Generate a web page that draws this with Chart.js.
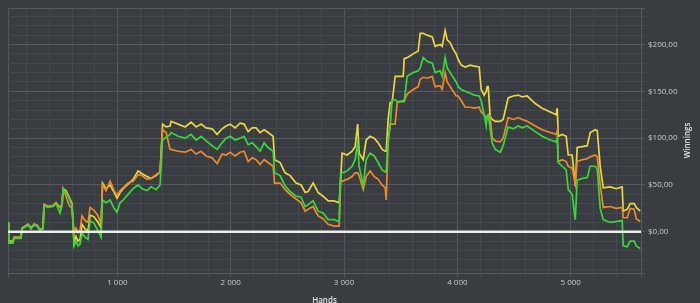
<!DOCTYPE html>
<html>
<head>
    <title>Winnings</title>
    <script src="https://cdn.jsdelivr.net/npm/chart.js"></script>
    <style>
        html, body { margin: 0; padding: 0; background: #393c40; }
        #wrap { width: 700px; height: 303px; position: relative; }
    </style>
</head>
<body>
    <div id="wrap"><canvas id="winChart"></canvas></div>
    <script>
        // hands played (x) and cumulative winnings per line ($)
        const hands = [
            35,41,79,88,150,159,212,238,265,291,
            318,344,353,388,432,459,494,512,521,547,
            574,600,618,635,653,671,688,715,741,759,
            794,830,856,869,900,936,971,997,1024,1059,
            1094,1139,1183,1218,1262,1297,1342,1377,1399,1430,
            1465,1474,1536,1598,1650,1695,1739,1783,1836,1880,
            1924,1959,1995,2039,2083,2118,2154,2189,2224,2259,
            2295,2330,2374,2387,2436,2480,2524,2577,2621,2657,
            2683,2727,2771,2815,2860,2913,2957,2970,2983,3027,
            3071,3098,3120,3133,3169,3195,3230,3266,3301,3336,
            3363,3372,3389,3407,3424,3451,3469,3522,3531,3557,
            3610,3654,3672,3698,3733,3778,3804,3848,3866,3892,
            3910,3936,3963,3989,4007,4034,4069,4113,4148,4192,
            4210,4236,4254,4263,4272,4289,4307,4334,4378,4404,
            4448,4493,4537,4572,4616,4687,4748,4819,4872,4881,
            4890,4925,4960,4978,5013,5040,5057,5102,5146,5172,
            5216,5234,5260,5287,5349,5401,5454,5463,5498,5525,
            5560,5578,5613
        ];
        const yellowWin = [
            10,-10,-10,-6,-6,4,8,4,8,7,
            2,4,29,27,28,31,26,29,46,44,
            37,30,-12,-5,-10,-8,8,3,1,18,
            16,10,4,52,46,50,42,36,42,47,
            51,56,65,62,59,57,60,64,115,112,
            113,118,115,112,117,112,115,111,110,104,
            110,113,115,111,116,115,107,111,111,106,
            109,106,102,77,74,63,60,52,50,42,
            43,52,42,38,33,33,31,56,84,82,
            86,91,115,84,77,98,102,100,95,88,
            86,86,120,138,138,166,166,166,185,186,
            190,193,212,212,210,208,198,200,198,215,
            205,202,195,190,184,178,176,178,177,176,
            152,146,150,155,155,123,120,118,118,120,
            143,145,146,144,145,137,132,128,125,132,
            102,104,102,82,82,49,90,91,92,106,
            109,108,70,47,48,46,48,22,24,30,
            30,26,22
        ];
        const orangeWin = [
            10,-11,-11,-6,-6,4,8,4,8,7,
            2,4,29,27,28,31,26,29,46,38,
            28,25,0,4,-1,2,17,12,10,26,
            23,17,8,50,44,54,44,39,44,48,
            52,54,61,60,56,57,61,64,109,106,
            88,88,86,85,88,83,86,81,79,73,
            83,82,85,81,85,86,75,79,77,72,
            77,74,70,52,52,45,40,35,31,22,
            24,27,17,14,8,6,6,56,54,56,
            59,63,63,60,45,59,65,59,56,50,
            47,34,95,115,115,115,138,140,140,147,
            152,155,163,165,164,166,155,156,152,170,
            160,155,150,145,145,140,133,133,132,133,
            128,125,122,122,125,123,100,97,96,100,
            122,120,122,120,118,113,109,106,104,108,
            75,77,75,70,68,51,75,77,78,80,
            82,80,50,26,27,25,26,15,15,25,
            24,14,11
        ];
        const greenWin = [
            10,-12,-12,-7,-7,3,7,3,7,6,
            1,3,28,26,27,30,20,28,46,42,
            36,28,-15,-10,-15,-13,-1,-6,-8,12,
            9,1,-6,34,31,34,25,21,31,35,
            40,46,50,46,44,48,45,50,98,101,
            104,106,102,100,104,98,102,97,92,88,
            95,100,102,98,100,102,93,95,91,86,
            95,90,86,63,60,49,43,38,37,27,
            29,33,22,20,13,13,11,63,63,65,
            70,77,95,70,49,77,84,81,74,66,
            64,64,100,113,141,141,139,139,139,166,
            170,172,175,186,182,180,170,172,166,186,
            175,170,165,160,155,152,150,148,146,145,
            140,125,113,124,125,110,95,88,85,92,
            112,110,113,111,113,107,102,98,96,100,
            74,70,66,45,40,13,55,57,58,70,
            70,67,25,13,10,11,12,-15,-16,-10,
            -10,-15,-18
        ];

        const handsRange = [35, 5620];
        const winRange = [-44, 239];
        const handsStep = 200, handsLabelEvery = 1000;
        const winStep = 10, winLabelEvery = 50;
        const xTitle = 'Hands';
        const yTitle = 'Winnings';

        const majorGrid = '#55585c';
        const minorGrid = '#45484c';
        const labelColor = '#c8ccd0';
        const labelFont = { family: 'Open Sans', size: 8 };

        function series(values) {
            return hands.map((h, i) => ({ x: h, y: values[i] }));
        }

        // ticks on round steps, plus the two ends so the frame gets drawn
        function stepTicks(range, step) {
            const out = [{ value: range[0] }];
            for (let v = Math.ceil(range[0] / step) * step; v < range[1] - step / 4; v += step) {
                if (v > range[0]) out.push({ value: v });
            }
            out.push({ value: range[1] });
            return out;
        }
        const isEnd = (v, range) => v === range[0] || v === range[1];

        // zero line on top of the lines + axis titles (Winnings reads upward)
        const overlay = {
            id: 'overlay',
            afterDatasetsDraw(chart) {
                const { ctx, chartArea: a, scales } = chart;
                const y0 = scales.y.getPixelForValue(0);
                ctx.save();
                ctx.strokeStyle = '#ededed';
                ctx.lineWidth = 2.5;
                ctx.beginPath();
                ctx.moveTo(a.left, y0);
                ctx.lineTo(a.right, y0);
                ctx.stroke();

                ctx.fillStyle = '#e4e6e8';
                ctx.font = '600 8px "Open Sans"';
                ctx.textAlign = 'center';
                ctx.textBaseline = 'top';
                ctx.fillText(xTitle, (a.left + a.right) / 2, 297);

                ctx.translate(688, (a.top + a.bottom) / 2);
                ctx.rotate(-Math.PI / 2);
                ctx.textBaseline = 'middle';
                ctx.fillText(yTitle, 0, 0);
                ctx.restore();
            }
        };

        new Chart(document.getElementById('winChart'), {
            type: 'line',
            data: {
                datasets: [
                    { label: 'green', data: series(greenWin), borderColor: '#38d838' },
                    { label: 'orange', data: series(orangeWin), borderColor: '#ec8a2c' },
                    { label: 'yellow', data: series(yellowWin), borderColor: '#e8d83e' }
                ]
            },
            options: {
                responsive: true,
                maintainAspectRatio: false,
                animation: false,
                events: [],
                layout: { padding: { left: 8, top: 8, right: 0, bottom: 0 } },
                elements: {
                    point: { radius: 0 },
                    line: { borderWidth: 1.7, tension: 0 }
                },
                plugins: { legend: { display: false }, tooltip: { enabled: false } },
                scales: {
                    x: {
                        type: 'linear',
                        min: handsRange[0],
                        max: handsRange[1],
                        afterBuildTicks: s => { s.ticks = stepTicks(handsRange, handsStep); },
                        afterFit: s => { s.height = 30; },
                        border: { display: true, color: majorGrid },
                        grid: {
                            color: c => (c.tick.value % handsLabelEvery === 0 || isEnd(c.tick.value, handsRange)) ? majorGrid : minorGrid,
                            tickLength: 4
                        },
                        ticks: {
                            maxRotation: 0,
                            autoSkip: false,
                            padding: 1,
                            color: labelColor,
                            font: labelFont,
                            callback: v => (v % handsLabelEvery === 0) ? (v / 1000) + ' 000' : ''
                        }
                    },
                    y: {
                        position: 'right',
                        min: winRange[0],
                        max: winRange[1],
                        afterBuildTicks: s => { s.ticks = stepTicks(winRange, winStep); },
                        afterFit: s => { s.width = 59; },
                        border: { display: true, color: majorGrid },
                        grid: {
                            color: c => (c.tick.value % winLabelEvery === 0 || isEnd(c.tick.value, winRange)) ? majorGrid : minorGrid,
                            tickLength: 4
                        },
                        ticks: {
                            autoSkip: false,
                            padding: 3,
                            color: labelColor,
                            font: labelFont,
                            callback: v => (v % winLabelEvery === 0) ? '$' + v.toFixed(2).replace('.', ',') : ''
                        }
                    }
                }
            },
            plugins: [overlay]
        });
    </script>
</body>
</html>
